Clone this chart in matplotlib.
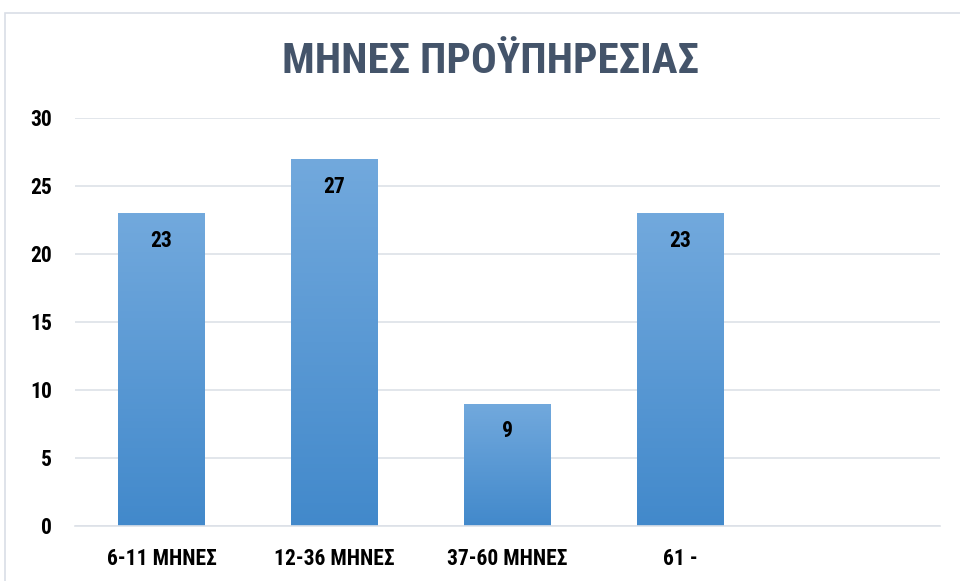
import matplotlib
matplotlib.use("Agg")
import matplotlib.pyplot as plt
import numpy as np
from matplotlib.patches import Rectangle
from matplotlib import font_manager
from matplotlib.font_manager import FontProperties

categories = ["6-11 ΜΗΝΕΣ", "12-36 ΜΗΝΕΣ", "37-60 ΜΗΝΕΣ", "61 -", ""]
values = [23, 27, 9, 23, None]
title = "ΜΗΝΕΣ ΠΡΟΫΠΗΡΕΣΙΑΣ"
yticks = [0, 5, 10, 15, 20, 25, 30]

# pick a bold condensed font (Calibri-like narrow look)
def pick_font():
    prefs = ["liberationsansnarrow-bold", "robotocondensed-bold", "opensanscondensed-bold",
             "dejavusanscondensed-bold"]
    files = {}
    for f in font_manager.fontManager.ttflist:
        key = f.fname.split("/")[-1].lower().replace(" ", "").replace("_", "")
        files[key] = f.fname
    for p in prefs:
        for k, v in files.items():
            if k.startswith(p):
                return v, p
    return None, None

path, which = pick_font()
def fp(size):
    if path:
        return FontProperties(fname=path, size=size)
    return FontProperties(family="DejaVu Sans", weight="bold", size=size)

W, H = 960, 581
fig = plt.figure(figsize=(W/100, H/100), dpi=100)
fig.patch.set_facecolor("white")

# outer chart frame
fig.patches.append(Rectangle((5/W, -0.05), 1.2, (H-13)/H + 0.05, transform=fig.transFigure,
                             fill=False, edgecolor="#D9DEE6", linewidth=1.2))

ax = fig.add_axes([75/W, 1-526/H, (940-75)/W, (526-118)/H])
x = np.arange(len(categories))

top_c = np.array([114, 169, 221]) / 255
bot_c = np.array([66, 137, 203]) / 255
grad = np.linspace(0, 1, 256)[:, None]
img = bot_c[None, None, :] * (1 - grad[..., None]) + top_c[None, None, :] * grad[..., None]
img = np.repeat(img, 2, axis=1)

for i, v in enumerate(values):
    if v is None:
        continue
    b = ax.bar(x[i], v, width=0.5, color="none", zorder=2)[0]
    im = ax.imshow(img, extent=[x[i]-0.25, x[i]+0.25, 0, v], origin="lower",
                   aspect="auto", zorder=2)
    im.set_clip_path(b)
    ax.text(x[i], v - 2.05, str(v), ha="center", va="center", fontproperties=fp(15.5),
            color="black", zorder=3)

ax.set_xlim(-0.5, len(categories)-0.5)
ax.set_ylim(0, 30)
ax.set_yticks(yticks)
ax.set_yticklabels([str(t) for t in yticks])
ax.set_xticks(x)
ax.set_xticklabels(categories)
for lab in ax.get_yticklabels() + ax.get_xticklabels():
    lab.set_fontproperties(fp(15.5))
ax.tick_params(axis="both", length=0)
ax.tick_params(axis="y", pad=16.5)
ax.tick_params(axis="x", pad=16)
ax.grid(axis="y", color="#DDE1E8", linewidth=1.2, zorder=0)
ax.set_axisbelow(True)
for s in ["top", "right", "left"]:
    ax.spines[s].set_visible(False)
ax.spines["bottom"].set_color("#DDE1E8")
ax.spines["bottom"].set_linewidth(1.2)

fig.text(491/W, 1-73/H, title, ha="center", va="baseline", fontproperties=fp(31),
         color="#44546A")

fig.savefig("out.png", dpi=100)
